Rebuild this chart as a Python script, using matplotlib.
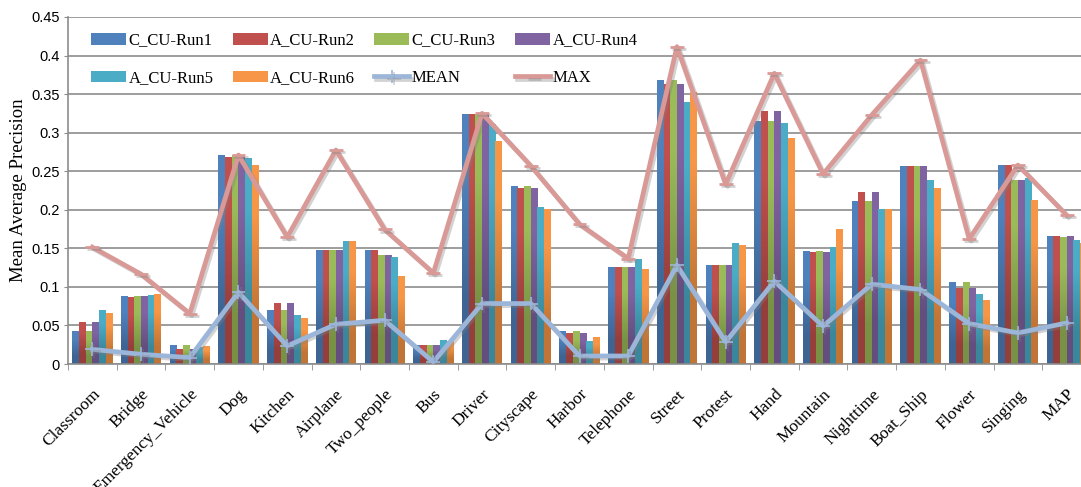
import matplotlib
matplotlib.use('Agg')
import matplotlib.pyplot as plt
import matplotlib.patheffects as pe
import numpy as np

categories = ["Classroom", "Bridge", "Emergency_Vehicle", "Dog", "Kitchen", "Airplane",
              "Two_people", "Bus", "Driver", "Cityscape", "Harbor", "Telephone", "Street",
              "Protest", "Hand", "Mountain", "Nighttime", "Boat_Ship", "Flower", "Singing", "MAP"]

run1 = [0.0425, 0.088, 0.0243, 0.271, 0.0697, 0.1477, 0.1477, 0.0243, 0.323, 0.2307, 0.0425,
        0.1247, 0.368, 0.128, 0.315, 0.1463, 0.211, 0.2566, 0.106, 0.258, 0.1658]
run2 = [0.054, 0.0867, 0.019, 0.268, 0.0788, 0.1477, 0.1477, 0.0243, 0.323, 0.228, 0.040,
        0.1247, 0.362, 0.128, 0.328, 0.145, 0.223, 0.2566, 0.098, 0.258, 0.1658]
run3 = [0.0425, 0.088, 0.0243, 0.271, 0.0697, 0.1477, 0.141, 0.0243, 0.323, 0.2307, 0.0425,
        0.1247, 0.368, 0.128, 0.315, 0.1463, 0.211, 0.2566, 0.106, 0.2385, 0.1645]
run4 = [0.054, 0.087, 0.019, 0.268, 0.0788, 0.1477, 0.141, 0.0243, 0.323, 0.228, 0.040,
        0.1247, 0.362, 0.128, 0.328, 0.145, 0.223, 0.2566, 0.098, 0.2385, 0.1658]
run5 = [0.0697, 0.089, 0.0208, 0.266, 0.063, 0.159, 0.1377, 0.0308, 0.310, 0.2035, 0.0295,
        0.136, 0.3385, 0.1567, 0.3125, 0.1515, 0.200, 0.2385, 0.0905, 0.240, 0.1606]
run6 = [0.065, 0.0905, 0.023, 0.257, 0.059, 0.159, 0.113, 0.0286, 0.288, 0.200, 0.0347,
        0.123, 0.3527, 0.154, 0.293, 0.1749, 0.200, 0.228, 0.0827, 0.2125, 0.1567]
mean_vals = [0.019, 0.0126, 0.0083, 0.093, 0.0234, 0.0515, 0.0567, 0.0026, 0.0784, 0.0784, 0.0104,
             0.0104, 0.128, 0.0286, 0.1074, 0.049, 0.1035, 0.0966, 0.0524, 0.0403, 0.0532]
max_vals = [0.1515, 0.1165, 0.0654, 0.271, 0.1645, 0.2775, 0.1745, 0.118, 0.325, 0.257, 0.1814,
            0.1368, 0.4115, 0.233, 0.377, 0.2463, 0.323, 0.394, 0.162, 0.258, 0.193]

run_names = ["C_CU-Run1", "A_CU-Run2", "C_CU-Run3", "A_CU-Run4", "A_CU-Run5", "A_CU-Run6"]
run_colors = ["#4F81BD", "#C0504D", "#9BBB59", "#8064A2", "#4BACC6", "#F79646"]

serif = ['Liberation Serif', 'DejaVu Serif']
sans = ['Liberation Sans', 'DejaVu Sans']

fig = plt.figure(figsize=(10.81, 4.87), dpi=100)
ax = fig.add_axes([68 / 1081, 123 / 487, 1023 / 1081, 347 / 487])

x = np.arange(len(categories))
w = 0.137
runs = [run1, run2, run3, run4, run5, run6]
handles = []
for i, (vals, name, col) in enumerate(zip(runs, run_names, run_colors)):
    bars = ax.bar(x + (i - 2.5) * w, vals, w, color=col, label=name, zorder=2, linewidth=0)
    handles.append(bars)
    # vertical gradient like the excel bars
    c = np.array(matplotlib.colors.to_rgb(col))
    grad = np.array([c * 0.78, c * 1.0]).reshape(2, 1, 3)
    for b in bars:
        x0, y0 = b.get_x(), b.get_y()
        ax.imshow(grad, extent=(x0, x0 + b.get_width(), y0, y0 + b.get_height()),
                  origin='lower', aspect='auto', interpolation='bilinear', zorder=2.1)

shadow = [pe.SimpleLineShadow(offset=(1.5, -1.5), alpha=0.35, shadow_color='gray'), pe.Normal()]
mean_line, = ax.plot(x, mean_vals, color='#9CB6DA', lw=3.4, marker='+', ms=10, mew=1.2,
                     label='MEAN', zorder=4, path_effects=shadow)
max_line, = ax.plot(x, max_vals, color='#D99A97', lw=3.4, marker='_', ms=10, mew=2,
                    label='MAX', zorder=4, path_effects=shadow)

ax.set_xlim(-0.5, len(categories) - 0.5)
ax.set_ylim(0, 0.45)
ax.set_yticks(np.arange(0, 0.451, 0.05))
ax.set_yticklabels(['0', '0.05', '0.1', '0.15', '0.2', '0.25', '0.3', '0.35', '0.4', '0.45'],
                   family=sans, fontsize=10.5)
ax.yaxis.grid(True, color='#8C8C8C', lw=1.2, zorder=0)
ax.set_axisbelow(True)

ax.set_xticks(x)
ax.set_xticklabels(categories, rotation=45, ha='right', rotation_mode='anchor',
                   family=serif, fontsize=12.5)
ax.set_xticks(np.arange(-0.5, len(categories), 1), minor=True)
ax.tick_params(axis='x', which='major', length=0, pad=16)
ax.tick_params(axis='x', which='minor', length=4, color='#8C8C8C', direction='out')
ax.tick_params(axis='y', length=3, color='#8C8C8C', pad=3)

for s in ['top', 'right']:
    ax.spines[s].set_visible(False)
for s in ['left', 'bottom']:
    ax.spines[s].set_color('#8C8C8C')
    ax.spines[s].set_linewidth(1.2)

ax.set_ylabel('Mean Average Precision', family=serif, fontsize=13.5, labelpad=3)

# legend fills column by column, so order for 2 rows x 4 columns
h = handles
order = [h[0], h[4], h[1], h[5], h[2], mean_line, h[3], max_line]
labels = [o.get_label() for o in order]
ax.legend(order, labels, ncol=4, loc='upper left', bbox_to_anchor=(0.0225, 0.955),
          frameon=False, prop={'family': serif, 'size': 12}, handlelength=2.1,
          handletextpad=0.15, columnspacing=1.15, labelspacing=1.3, borderaxespad=0, borderpad=0)

fig.savefig('out.png', dpi=100)
